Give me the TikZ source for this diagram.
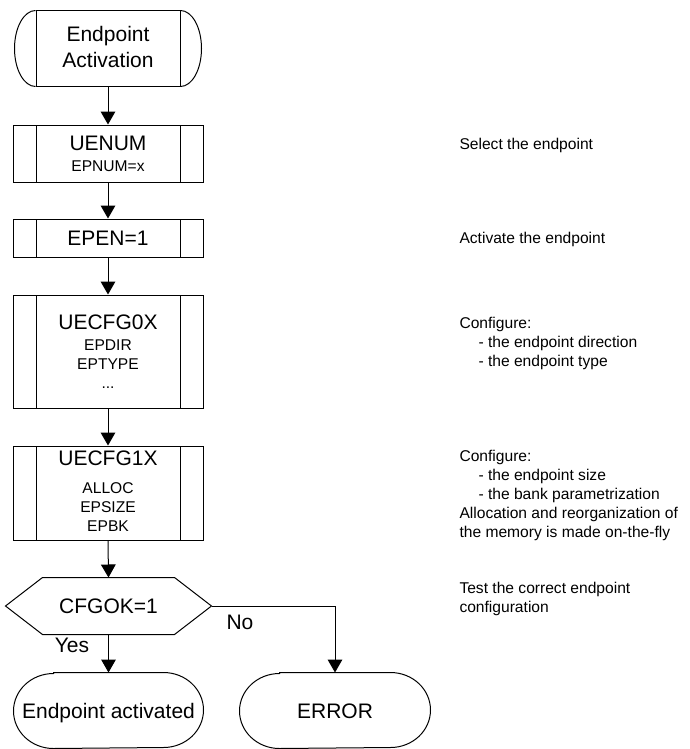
\documentclass[tikz,border=0pt]{standalone}
\usepackage{fontspec}
\setmainfont{Liberation Sans}
\usetikzlibrary{arrows.meta,fit}
\begin{document}
\begin{tikzpicture}[x=0.75pt,y=-0.75pt,line width=0.75pt,
  frame/.style={draw, rectangle, inner sep=0pt},
  prebox/.style={frame,
    path picture={
      \draw ([xshift=17.25pt]path picture bounding box.north west) -- ([xshift=17.25pt]path picture bounding box.south west);
      \draw ([xshift=-17.25pt]path picture bounding box.north east) -- ([xshift=-17.25pt]path picture bounding box.south east);
    }},
  ghost/.style={rectangle, inner sep=0pt},
  bigtxt/.style={font=\fontsize{15.75pt}{19pt}\selectfont, inner sep=0pt, anchor=base},
  smalltxt/.style={font=\fontsize{11.7pt}{14.25pt}\selectfont, inner sep=0pt, anchor=base},
  note/.style={font=\fontsize{11.7pt}{14.25pt}\selectfont, inner sep=0pt, anchor=base west},
  arr/.style={-{Triangle[length=9.75pt,width=11pt]}}
]
\useasboundingbox (0,0) rectangle (689,749);

% start terminal
\node[frame, fit={(36,11)(180,87)}] (start) {};
\draw (start.north west) arc[start angle=90, end angle=270, x radius=15.75pt, y radius=28.5pt];
\draw (start.north east) arc[start angle=90, end angle=-90, x radius=15.75pt, y radius=28.5pt];
\node[bigtxt] (s1) at (108,42) {Endpoint};
\node[bigtxt] (s2) at (108,68) {Activation};

% UENUM
\node[prebox, fit={(13,125)(203,182)}] (uenum) {};
\node[bigtxt] (u1) at (108,150) {UENUM};
\node[smalltxt] (u2) at (108,171) {EPNUM=x};

% EPEN
\node[prebox, fit={(13,219)(203,257)}] (epen) {};
\node[bigtxt] (e1) at (108,245) {EPEN=1};

% UECFG0X
\node[prebox, fit={(13,295)(203,408)}] (cfg0) {};
\node[bigtxt] (c01) at (108,329) {UECFG0X};
\node[smalltxt] (c02) at (108,350) {EPDIR};
\node[smalltxt] (c03) at (108,369) {EPTYPE};
\node[smalltxt] (c04) at (108,388) {...};

% UECFG1X
\node[prebox, fit={(13,446)(203,540)}] (cfg1) {};
\node[bigtxt] (c11) at (108,465) {UECFG1X};
\node[smalltxt] (c12) at (108,493) {ALLOC};
\node[smalltxt] (c13) at (108,512) {EPSIZE};
\node[smalltxt] (c14) at (108,531) {EPBK};

% decision
\node[ghost, fit={(6,578)(211,634)}] (hex) {};
\draw (hex.west) -- ([xshift=27.75pt]hex.north west) -- ([xshift=-27.75pt]hex.north east)
  -- (hex.east) -- ([xshift=-27.75pt]hex.south east) -- ([xshift=27.75pt]hex.south west) -- cycle;
\node[bigtxt] (h1) at (108.5,613) {CFGOK=1};

% end terminals
\node[ghost, fit={(14,673)(203,748)}] (act) {};
\draw ([xshift=30pt]act.north west) -- ([xshift=-30pt]act.north east)
  arc[start angle=90, end angle=-90, x radius=30pt, y radius=28.125pt]
  -- ([xshift=30pt]act.south west)
  arc[start angle=270, end angle=90, x radius=30pt, y radius=28.125pt] -- cycle;
\node[bigtxt] (a1) at (108.5,718) {Endpoint activated};

\node[ghost, fit={(240,673)(430,748)}] (err) {};
\draw ([xshift=30pt]err.north west) -- ([xshift=-30pt]err.north east)
  arc[start angle=90, end angle=-90, x radius=30pt, y radius=28.125pt]
  -- ([xshift=30pt]err.south west)
  arc[start angle=270, end angle=90, x radius=30pt, y radius=28.125pt] -- cycle;
\node[bigtxt] (r1) at (335,718) {ERROR};

% connectors
\draw[arr] (start.south) -- (uenum.north);
\draw[arr] (uenum.south) -- (epen.north);
\draw[arr] (epen.south) -- (cfg0.north);
\draw[arr] (cfg0.south) -- (cfg1.north);
\draw[arr] (cfg1.south) -- (hex.north);
\draw[arr] (hex.south) -- (act.north);
\draw[arr] (hex.east) -| (err.north);
\node[bigtxt] (yes) at (72,652) {Yes};
\node[bigtxt] (no) at (240,629) {No};

% notes
\node[note] (n1) at (459,149) {Select the endpoint};
\node[note] (n2) at (459,243) {Activate the endpoint};
\node[note] (n3) at (459,328) {Configure:};
\node[note] (n4) at (478,347) {- the endpoint direction};
\node[note] (n5) at (478,366) {- the endpoint type};
\node[note] (n6) at (459,461) {Configure:};
\node[note] (n7) at (478,480) {- the endpoint size};
\node[note] (n8) at (478,499) {- the bank parametrization};
\node[note] (n9) at (459,518) {Allocation and reorganization of};
\node[note] (n10) at (459,537) {the memory is made on-the-fly};
\node[note] (n11) at (459,593) {Test the correct endpoint};
\node[note] (n12) at (459,612) {configuration};
\end{tikzpicture}
\end{document}
